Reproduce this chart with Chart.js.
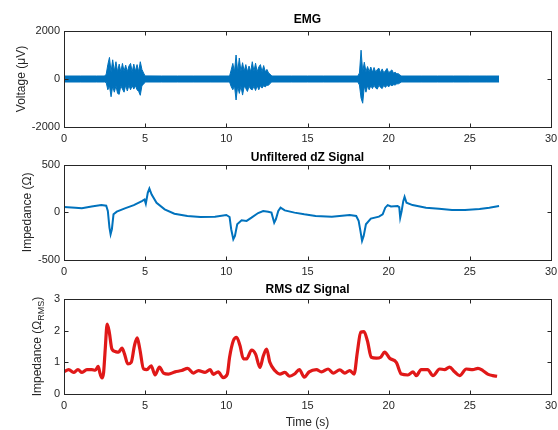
<!DOCTYPE html>
<html><head><meta charset="utf-8">
<script src="https://cdn.jsdelivr.net/npm/chart.js@4/dist/chart.umd.min.js"></script>
<style>
html,body{margin:0;padding:0;background:#fff;}
#wrap{position:relative;width:558px;height:430px;overflow:hidden;background:#fff}
canvas{position:absolute;left:0}
</style></head><body>
<div id="wrap">
<canvas id="c1" width="558" height="150" style="top:0px;width:558px;height:150px"></canvas>
<canvas id="c2" width="558" height="143" style="top:140px;width:558px;height:143px"></canvas>
<canvas id="c3" width="558" height="160" style="top:270px;width:558px;height:160px"></canvas>
</div>
<script>
// ---- data ----
const emgTime = [0,1.0,2.0,2.5,
 2.6,2.7,2.8,2.9,3.0,3.1,3.2,3.3,3.4,3.5,3.6,3.7,3.8,3.9,4.0,4.1,4.2,4.3,4.4,4.5,4.6,4.7,4.8,4.9,5.0,
 6.0,7.0,8.0,9.0,10.2,
 10.3,10.4,10.5,10.6,10.7,10.8,10.9,11.0,11.1,11.2,11.3,11.4,11.5,11.6,11.7,11.8,11.9,12.0,12.1,12.2,12.3,12.4,12.5,12.6,12.7,12.8,
 14.0,15.0,16.0,17.0,18.1,
 18.2,18.3,18.4,18.5,18.6,18.7,18.8,18.9,19.0,19.1,19.2,19.3,19.4,19.5,19.6,19.7,19.8,19.9,20.0,20.1,20.2,20.3,20.4,20.5,20.6,20.7,20.8,
 22.0,23.0,24.0,25.0,26.0,26.8];
const emgUpper = [125,125,125,125,
 200,600,900,300,800,320,720,300,620,300,650,320,580,300,540,650,300,620,320,600,300,720,400,250,130,
 125,125,125,125,125,
 380,650,300,1000,300,875,320,680,320,600,300,540,300,720,320,660,300,500,600,300,560,300,400,250,200,125,
 125,125,125,125,125,
 250,1200,300,700,300,520,300,500,280,480,280,400,450,260,420,260,340,440,260,320,380,240,280,220,220,160,125,
 125,125,125,125,125,125];
const emgLower = [-125,-125,-125,-125,
 -150,-450,-280,-740,-300,-550,-280,-600,-640,-280,-420,-550,-260,-500,-260,-450,-280,-420,-280,-450,-520,-680,-280,-220,-125,
 -125,-125,-125,-125,-125,
 -320,-450,-280,-875,-300,-600,-300,-670,-300,-400,-520,-300,-420,-450,-300,-480,-280,-450,-280,-380,-280,-330,-260,-260,-180,-125,
 -125,-125,-125,-125,-125,
 -250,-800,-1010,-300,-550,-280,-450,-280,-400,-260,-380,-420,-260,-350,-400,-260,-350,-260,-330,-240,-280,-240,-250,-200,-200,-160,-125,
 -125,-125,-125,-125,-125,-125];

const dzTime = [0,0.7,1.1,1.7,2.3,2.6,2.7,2.8,2.87,2.95,3.05,3.25,3.75,4.3,4.8,4.96,5.04,5.16,5.26,5.4,5.7,6.2,6.8,7.6,8.4,9.3,10.0,10.2,10.3,10.43,10.53,10.67,10.94,11.25,11.55,11.96,12.27,12.58,12.78,12.95,13.05,13.2,13.34,13.6,14.2,14.8,15.5,16.5,17.6,18.0,18.15,18.26,18.36,18.46,18.6,18.9,19.4,19.63,19.79,19.94,20.14,20.55,20.65,20.71,20.8,20.9,20.98,21.1,21.47,22.3,23.1,23.9,24.7,25.6,26.2,26.8];
const dzValue = [56,49,42,62,76,69,14,-160,-229,-177,-21,7,42,76,118,135,90,205,250,187,101,31,-14,-38,-49,-45,-28,-49,-177,-281,-247,-125,-83,-90,-56,-7,14,7,-3,-108,-73,14,49,21,-3,-21,-38,-45,-28,-38,-90,-194,-299,-247,-125,-66,-45,-21,49,76,62,66,56,-56,14,118,163,101,76,49,38,24,24,35,49,66];

const rmsTime = [0,0.29,0.59,0.86,1.11,1.41,1.72,1.93,2.1,2.23,2.34,2.44,2.54,2.66,2.79,2.95,3.16,3.36,3.57,3.73,3.93,4.14,4.34,4.51,4.67,4.9,5.1,5.37,5.61,5.88,6.13,6.43,6.84,7.25,7.62,7.97,8.28,8.69,9.0,9.2,9.5,9.8,10.06,10.2,10.43,10.63,10.84,11.05,11.25,11.56,11.8,12.07,12.27,12.48,12.68,12.99,13.3,13.6,13.9,14.2,14.5,14.8,15.1,15.55,15.86,16.27,16.58,16.99,17.3,17.6,17.87,18.07,18.28,18.48,18.69,18.93,19.24,19.51,19.75,20.06,20.47,20.78,21.19,21.5,21.7,22.0,22.4,22.73,23.14,23.44,23.75,24.06,24.37,24.78,25.18,25.5,25.8,26.1,26.41,26.68];
const rmsValue = [0.70,0.77,0.68,0.77,0.68,0.77,0.77,0.75,0.87,0.63,0.51,0.68,1.42,2.21,1.95,1.42,1.34,1.32,1.45,1.26,0.95,1.0,1.53,1.77,1.42,0.79,0.77,0.89,0.6,0.85,0.66,0.63,0.7,0.74,0.81,0.66,0.74,0.68,0.77,0.62,0.7,0.52,0.63,1.16,1.68,1.79,1.53,1.11,1.11,1.39,1.26,0.84,1.19,1.42,1.0,0.74,0.63,0.68,0.56,0.63,0.77,0.53,0.7,0.77,0.7,0.79,0.66,0.76,0.66,0.74,0.63,1.32,1.95,1.97,1.68,1.16,1.13,1.16,1.32,1.13,1.0,0.63,0.6,0.7,0.58,0.77,0.77,0.58,0.79,0.77,0.85,0.7,0.58,0.79,0.77,0.81,0.74,0.63,0.58,0.56];

const xTickValues = [0,5,10,15,20,25,30];
const titles = ['EMG','Unfiltered dZ Signal','RMS dZ Signal'];
const yTitles = ['Voltage (\u03BCV)','Impedance (\u03A9)','Impedance (\u03A9'];

// ---- rendering ----
const FONT = "'Liberation Sans', Arial, Helvetica, sans-serif";
const AX = '#262626';
Chart.defaults.font.family = FONT;
Chart.defaults.color = AX;

function pts(xs, ys){ return xs.map((t,i)=>({x:t,y:ys[i]})); }

const boxPlugin = {id:'box', afterDraw(chart){
  const {ctx, chartArea:a, scales:{x,y}} = chart;
  ctx.save();
  ctx.strokeStyle = AX; ctx.lineWidth = 1;
  const l=Math.round(a.left)+0.5, t=Math.round(a.top)+0.5, r=Math.round(a.right)+0.5, b=Math.round(a.bottom)+0.5;
  ctx.strokeRect(l,t,r-l,b-t);
  const L=4;
  ctx.beginPath();
  x.ticks.forEach(tk=>{const px=Math.round(x.getPixelForValue(tk.value))+0.5;
    ctx.moveTo(px,b);ctx.lineTo(px,b-L);ctx.moveTo(px,t);ctx.lineTo(px,t+L);});
  y.ticks.forEach(tk=>{const py=Math.round(y.getPixelForValue(tk.value))+0.5;
    ctx.moveTo(l,py);ctx.lineTo(l+L,py);ctx.moveTo(r,py);ctx.lineTo(r-L,py);});
  ctx.stroke();
  ctx.restore();
}};

const subTitlePlugin = {id:'subTitle', afterDraw(chart, args, opts){
  if(!opts || !opts.main) return;
  const {ctx, chartArea:a} = chart;
  ctx.save();
  const cy = (a.top+a.bottom)/2;
  ctx.translate(opts.x, cy);
  ctx.rotate(-Math.PI/2);
  ctx.fillStyle = AX;
  ctx.textBaseline = 'middle';
  ctx.textAlign = 'left';
  const f1 = "12px "+FONT, f2 = "9px "+FONT;
  ctx.font=f1; const w1=ctx.measureText(opts.main).width; const w3=ctx.measureText(')').width;
  ctx.font=f2; const w2=ctx.measureText(opts.sub).width;
  const tot=w1+w2+w3; let sx=-tot/2;
  ctx.font=f1; ctx.fillText(opts.main, sx, 0); sx+=w1;
  ctx.font=f2; ctx.fillText(opts.sub, sx, 4); sx+=w2;
  ctx.font=f1; ctx.fillText(')', sx, 0);
  ctx.restore();
}};

function makeChart(id, datasets, cfg){
  return new Chart(document.getElementById(id), {
    type:'line',
    data:{datasets},
    options:{
      responsive:false, animation:false, devicePixelRatio:1,
      layout:{padding:{left:0,right:0,top:0,bottom:0}},
      elements:{point:{radius:0}, line:{tension:0}},
      plugins:{
        legend:{display:false}, tooltip:{enabled:false},
        title:{display:true, fullSize:false, text:cfg.title, color:'#000', font:{size:12, weight:'bold', family:FONT}, padding:{top:cfg.tTop, bottom:cfg.tBot}},
        subTitle: cfg.sub || {}
      },
      scales:{
        x:{type:'linear', min:0, max:30,
          grid:{display:false, drawTicks:false, tickLength:0}, border:{display:false},
          afterBuildTicks(s){ s.ticks = xTickValues.map(v=>({value:v})); },
          afterFit(s){ s.height = cfg.xH; s.paddingRight = 7; },
          ticks:{padding:5, font:{size:11}, color:AX, maxRotation:0, callback:v=>String(v)},
          title:{display:!!cfg.xTitle, text:cfg.xTitle||'', font:{size:12}, color:AX, padding:{top:0,bottom:0}}
        },
        y:{type:'linear', min:cfg.yMin, max:cfg.yMax,
          grid:{display:false, drawTicks:false, tickLength:0}, border:{display:false},
          afterBuildTicks(s){ s.ticks = cfg.yTicks.map(v=>({value:v})); },
          afterFit(s){ s.width = 64; },
          ticks:{padding:4, font:{size:11}, color:AX, callback:v=>String(v)},
          title:{display:!!cfg.yTitle, text:cfg.yTitle||'', font:{size:12}, color:AX, padding:{top:cfg.yTPad, bottom:0}}
        }
      }
    },
    plugins:[boxPlugin, subTitlePlugin]
  });
}

const BLUE = '#0072BD';
makeChart('c1', [
  {data:pts(emgTime, emgUpper), borderColor:BLUE, borderWidth:1, backgroundColor:BLUE, fill:'+1'},
  {data:pts(emgTime, emgLower), borderColor:BLUE, borderWidth:1, fill:false}
], {title:titles[0], tTop:12.8, tBot:3.8, xH:23, yMin:-2000, yMax:2000, yTicks:[-2000,0,2000], yTitle:yTitles[0], yTPad:14.8});

makeChart('c2', [
  {data:pts(dzTime, dzValue), borderColor:BLUE, borderWidth:2, fill:false}
], {title:titles[1], tTop:10.3, tBot:0, xH:23, yMin:-500, yMax:500, yTicks:[-500,0,500], yTitle:yTitles[1], yTPad:20.8});

makeChart('c3', [
  {data:pts(rmsTime, rmsValue), borderColor:'#E01818', borderWidth:3.2, fill:false, cubicInterpolationMode:'monotone', tension:0.4}
], {title:titles[2], tTop:12.8, tBot:1.8, xH:36, yMin:0, yMax:3, yTicks:[0,1,2,3], yTitle:'', yTPad:0,
    xTitle:'Time (s)', sub:{main:yTitles[2], sub:'RMS', x:38}});
</script>
</body></html>
